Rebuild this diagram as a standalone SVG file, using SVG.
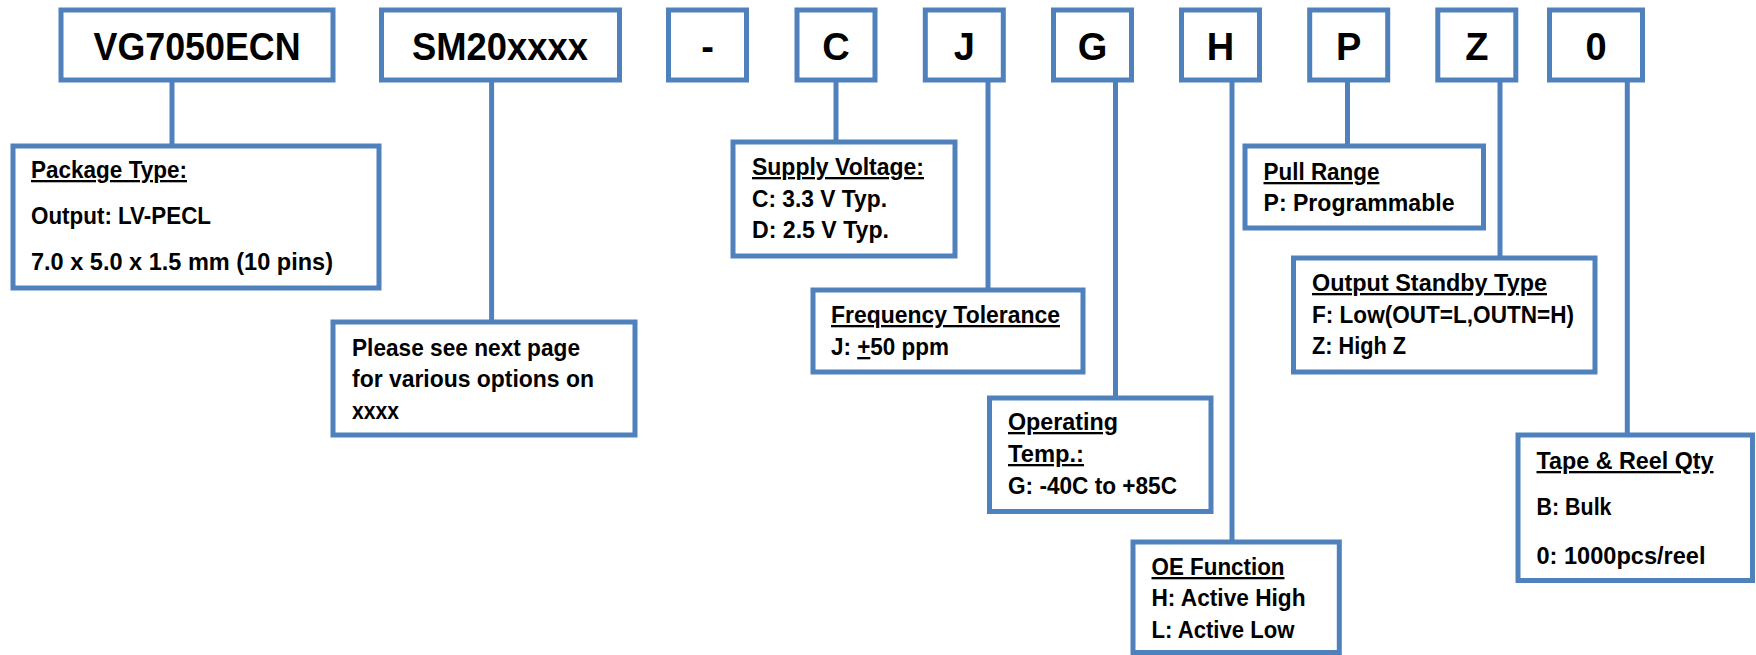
<svg xmlns="http://www.w3.org/2000/svg" width="1756" height="655" viewBox="0 0 1756 655">
<style>
.box{fill:#fff;stroke:#4F81BD;stroke-width:5}
.con line{stroke:#4F81BD;stroke-width:5}
.big{font-family:"Liberation Sans",Arial,sans-serif;font-weight:bold;font-size:38px;fill:#000;text-anchor:middle}
.t{font-family:"Liberation Sans",Arial,sans-serif;font-weight:bold;font-size:23px;fill:#000}
.u{text-decoration:underline}
</style>
<rect width="1756" height="655" fill="#fff"/>
<g class="con">
<line x1="172" y1="80" x2="172" y2="146"/>
<line x1="491.6" y1="80" x2="491.6" y2="322"/>
<line x1="836" y1="80" x2="836" y2="142"/>
<line x1="988" y1="80" x2="988" y2="290"/>
<line x1="1115.5" y1="80" x2="1115.5" y2="398"/>
<line x1="1232" y1="80" x2="1232" y2="542"/>
<line x1="1347.5" y1="80" x2="1347.5" y2="146"/>
<line x1="1500" y1="80" x2="1500" y2="258"/>
<line x1="1627.3" y1="80" x2="1627.3" y2="435"/>
</g>
<g id="n-vg"><rect class="box" x="61" y="10" width="272" height="70"/><text class="big" x="197" y="60" textLength="207" lengthAdjust="spacingAndGlyphs">VG7050ECN</text></g>
<g id="n-sm"><rect class="box" x="381.5" y="10" width="238" height="70"/><text class="big" x="500" y="60" textLength="176" lengthAdjust="spacingAndGlyphs">SM20xxxx</text></g>
<g id="n-dash"><rect class="box" x="668.5" y="10" width="78" height="70"/><text class="big" x="707.5" y="60">-</text></g>
<g id="n-c"><rect class="box" x="797" y="10" width="78" height="70"/><text class="big" x="836" y="60">C</text></g>
<g id="n-j"><rect class="box" x="925.3" y="10" width="78" height="70"/><text class="big" x="964.3" y="60">J</text></g>
<g id="n-g"><rect class="box" x="1053.5" y="10" width="78" height="70"/><text class="big" x="1092.5" y="60">G</text></g>
<g id="n-h"><rect class="box" x="1181.5" y="10" width="78" height="70"/><text class="big" x="1220.5" y="60">H</text></g>
<g id="n-p"><rect class="box" x="1309.7" y="10" width="78" height="70"/><text class="big" x="1348.7" y="60">P</text></g>
<g id="n-z"><rect class="box" x="1437.8" y="10" width="78" height="70"/><text class="big" x="1476.8" y="60">Z</text></g>
<g id="n-0"><rect class="box" x="1549.5" y="10" width="93" height="70"/><text class="big" x="1596" y="60">0</text></g>

<g id="n-package"><rect class="box" x="13" y="146" width="366" height="142"/>
<text class="t u" x="31" y="178" textLength="156" lengthAdjust="spacingAndGlyphs">Package Type:</text>
<text class="t" x="31" y="224" textLength="180" lengthAdjust="spacingAndGlyphs">Output: LV-PECL</text>
<text class="t" x="31" y="270" textLength="302" lengthAdjust="spacingAndGlyphs">7.0 x 5.0 x 1.5 mm (10 pins)</text></g>

<g id="n-please"><rect class="box" x="333" y="322" width="302" height="113"/>
<text class="t" x="352" y="356" textLength="228" lengthAdjust="spacingAndGlyphs">Please see next page</text>
<text class="t" x="352" y="387" textLength="242" lengthAdjust="spacingAndGlyphs">for various options on</text>
<text class="t" x="352" y="419" textLength="47" lengthAdjust="spacingAndGlyphs">xxxx</text></g>

<g id="n-supply"><rect class="box" x="733" y="142" width="222" height="114"/>
<text class="t u" x="752" y="175" textLength="172" lengthAdjust="spacingAndGlyphs">Supply Voltage:</text>
<text class="t" x="752" y="207" textLength="135" lengthAdjust="spacingAndGlyphs">C: 3.3 V Typ.</text>
<text class="t" x="752" y="238" textLength="137" lengthAdjust="spacingAndGlyphs">D: 2.5 V Typ.</text></g>

<g id="n-freq"><rect class="box" x="813" y="290" width="270" height="82"/>
<text class="t u" x="831" y="323" textLength="229" lengthAdjust="spacingAndGlyphs">Frequency Tolerance</text>
<text class="t" x="831" y="355" textLength="118" lengthAdjust="spacingAndGlyphs">J: <tspan class="u">+</tspan>50 ppm</text></g>

<g id="n-optemp"><rect class="box" x="989.5" y="398" width="221.5" height="113.5"/>
<text class="t u" x="1008" y="430" textLength="110" lengthAdjust="spacingAndGlyphs">Operating</text>
<text class="t u" x="1008" y="462" textLength="76" lengthAdjust="spacingAndGlyphs">Temp.:</text>
<text class="t" x="1008" y="494" textLength="169" lengthAdjust="spacingAndGlyphs">G: -40C to +85C</text></g>

<g id="n-oe"><rect class="box" x="1133" y="542" width="206.3" height="110.5"/>
<text class="t u" x="1151.5" y="575" textLength="133" lengthAdjust="spacingAndGlyphs">OE Function</text>
<text class="t" x="1151.5" y="606" textLength="154" lengthAdjust="spacingAndGlyphs">H: Active High</text>
<text class="t" x="1151.5" y="637.5" textLength="143" lengthAdjust="spacingAndGlyphs">L: Active Low</text></g>

<g id="n-pull"><rect class="box" x="1245" y="146" width="238.5" height="82"/>
<text class="t u" x="1263.5" y="180" textLength="116" lengthAdjust="spacingAndGlyphs">Pull Range</text>
<text class="t" x="1263.5" y="211" textLength="191" lengthAdjust="spacingAndGlyphs">P: Programmable</text></g>

<g id="n-standby"><rect class="box" x="1293.5" y="258" width="301.5" height="114"/>
<text class="t u" x="1312" y="291" textLength="235" lengthAdjust="spacingAndGlyphs">Output Standby Type</text>
<text class="t" x="1312" y="322.5" textLength="262" lengthAdjust="spacingAndGlyphs">F: Low(OUT=L,OUTN=H)</text>
<text class="t" x="1312" y="354" textLength="94" lengthAdjust="spacingAndGlyphs">Z: High Z</text></g>

<g id="n-tape"><rect class="box" x="1518" y="435" width="234.5" height="145.5"/>
<text class="t u" x="1536.5" y="469" textLength="177" lengthAdjust="spacingAndGlyphs">Tape &amp; Reel Qty</text>
<text class="t" x="1536.5" y="515" textLength="75" lengthAdjust="spacingAndGlyphs">B: Bulk</text>
<text class="t" x="1536.5" y="563.5" textLength="169" lengthAdjust="spacingAndGlyphs">0: 1000pcs/reel</text></g>
</svg>
